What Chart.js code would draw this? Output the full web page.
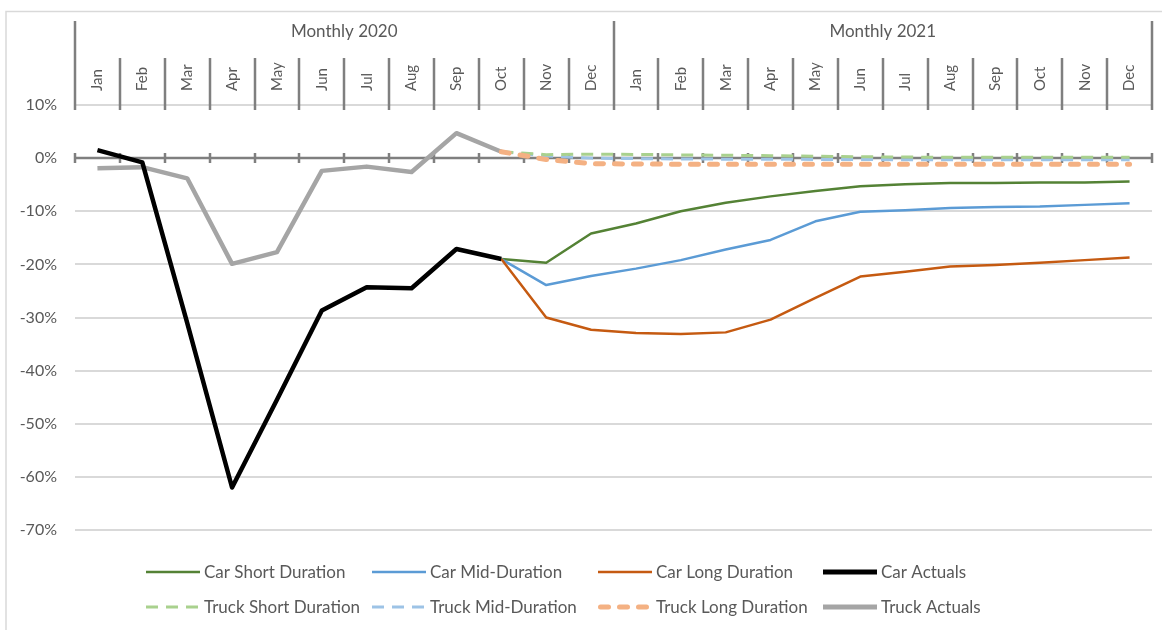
<!DOCTYPE html>
<html>
<head>
<meta charset="utf-8">
<script src="https://cdn.jsdelivr.net/npm/chart.js@4.4.1/dist/chart.umd.min.js"></script>
<style>
  html, body { margin: 0; padding: 0; background: #ffffff; }
  #wrap { position: relative; width: 1162px; height: 630px; }
  canvas { display: block; }
</style>
</head>
<body>
<div id="wrap"><canvas id="chart" width="1162" height="630"></canvas></div>
<script>
// Month categories across the two years
const months = ['Jan','Feb','Mar','Apr','May','Jun','Jul','Aug','Sep','Oct','Nov','Dec',
                'Jan','Feb','Mar','Apr','May','Jun','Jul','Aug','Sep','Oct','Nov','Dec'];
const yearGroups = ['Monthly 2020', 'Monthly 2021'];
const yTicks = [10, 0, -10, -20, -30, -40, -50, -60, -70];

// Year-over-year change, in percent
const carActuals   = [1.5, -0.8, -31.0, -62.0, -45.5, -28.7, -24.3, -24.5, -17.1, -19.0,
                      null, null, null, null, null, null, null, null, null, null, null, null, null, null];
const truckActuals = [-1.9, -1.7, -3.8, -19.9, -17.7, -2.4, -1.6, -2.6, 4.7, 1.2,
                      null, null, null, null, null, null, null, null, null, null, null, null, null, null];

const carShort  = [null, null, null, null, null, null, null, null, null,
                   -19.0, -19.7, -14.2, -12.3, -10.0, -8.4, -7.2, -6.2, -5.3, -4.9, -4.7, -4.7, -4.6, -4.6, -4.4];
const carMid    = [null, null, null, null, null, null, null, null, null,
                   -19.0, -23.9, -22.2, -20.8, -19.2, -17.2, -15.4, -11.9, -10.1, -9.8, -9.4, -9.2, -9.1, -8.8, -8.5];
const carLong   = [null, null, null, null, null, null, null, null, null,
                   -19.0, -30.0, -32.3, -32.9, -33.1, -32.8, -30.4, -26.3, -22.3, -21.4, -20.4, -20.1, -19.7, -19.2, -18.7];

const truckShort = [null, null, null, null, null, null, null, null, null,
                    1.2, 0.65, 0.75, 0.7, 0.6, 0.55, 0.45, 0.35, 0.25, 0.2, 0.15, 0.15, 0.15, 0.15, 0.15];
const truckMid   = [null, null, null, null, null, null, null, null, null,
                    1.2, 0.4, 0.0, -0.1, -0.15, -0.2, -0.2, -0.25, -0.25, -0.3, -0.3, -0.3, -0.3, -0.3, -0.3];
const truckLong  = [null, null, null, null, null, null, null, null, null,
                    1.2, -0.25, -1.05, -1.1, -1.15, -1.15, -1.15, -1.15, -1.15, -1.15, -1.15, -1.15, -1.15, -1.15, -1.15];

const TEXT = '#595959';
const AXIS = '#7f7f7f';
const FONT = 'Lato, "Liberation Sans", sans-serif';

function series(label, data, color, width, extra) {
  return Object.assign({
    label, data,
    borderColor: color, backgroundColor: color,
    borderWidth: width, pointRadius: 0, pointHoverRadius: 0,
    tension: 0, fill: false, spanGaps: false,
    borderJoinStyle: 'round', borderCapStyle: 'butt'
  }, extra || {});
}

const datasets = [
  series('Car Short Duration', carShort, '#548235', 2.5, { order: 6 }),
  series('Car Mid-Duration', carMid, '#5b9bd5', 2.5, { order: 5 }),
  series('Car Long Duration', carLong, '#c55a11', 2.5, { order: 4 }),
  series('Car Actuals', carActuals, '#000000', 4.5, { order: 0, legendWidth: 5 }),
  series('Truck Short Duration', truckShort, '#a9d18e', 3, { order: 2, borderDash: [12, 8] }),
  series('Truck Mid-Duration', truckMid, '#9dc3e6', 3, { order: 3, borderDash: [12, 8] }),
  series('Truck Long Duration', truckLong, '#f4b183', 5, { order: 1, borderDash: [8, 11], borderCapStyle: 'round' }),
  series('Truck Actuals', truckActuals, '#a5a5a5', 4.5, { order: 1, legendWidth: 5 })
];

// Boundary pixel between categories i-1 and i (i = 0..n)
function boundary(xs, i) {
  const step = xs.getPixelForValue(1) - xs.getPixelForValue(0);
  return xs.getPixelForValue(0) + (i - 0.5) * step;
}

// Frame, zero axis with tick marks, and the two-level month header
const framePlugin = {
  id: 'frame',
  beforeDatasetsDraw(chart) {
    const { ctx, chartArea, scales } = chart;
    const xs = scales.x, ys = scales.y;
    const y0 = Math.round(ys.getPixelForValue(0));
    ctx.save();
    ctx.strokeStyle = AXIS;
    ctx.lineWidth = 2.5;
    ctx.beginPath();
    ctx.moveTo(chartArea.left, y0);
    ctx.lineTo(chartArea.right, y0);
    for (let i = 0; i <= months.length; i++) {
      const bx = Math.round(boundary(xs, i));
      ctx.moveTo(bx, y0 - 5);
      ctx.lineTo(bx, y0 + 5);
    }
    ctx.stroke();
    ctx.restore();
  },
  afterDraw(chart) {
    const { ctx, chartArea, scales } = chart;
    const xs = scales.x;
    ctx.save();
    // outer frame
    ctx.strokeStyle = '#d9d9d9';
    ctx.lineWidth = 1.5;
    ctx.strokeRect(6, 11.5, 1200, 700);

    // header separators
    ctx.strokeStyle = AXIS;
    ctx.lineWidth = 2.5;
    ctx.beginPath();
    for (let i = 0; i <= months.length; i++) {
      const bx = Math.round(boundary(xs, i));
      const top = (i % 12 === 0) ? 21 : 58;
      ctx.moveTo(bx, top);
      ctx.lineTo(bx, chartArea.top + 5);
    }
    ctx.stroke();

    // year group titles
    ctx.fillStyle = TEXT;
    ctx.font = '17px ' + FONT;
    ctx.textAlign = 'center';
    ctx.textBaseline = 'middle';
    yearGroups.forEach((g, k) => {
      const cx = (boundary(xs, k * 12) + boundary(xs, k * 12 + 12)) / 2;
      ctx.fillText(g, cx, 32);
    });

    // legend, two rows of four
    const cols = [146, 372, 598, 823];
    const rows = [572, 607];
    const sampleW = 54;
    ctx.font = '17px ' + FONT;
    ctx.textAlign = 'left';
    chart.data.datasets.forEach((ds, k) => {
      const x = cols[k % 4];
      const y = rows[Math.floor(k / 4)];
      ctx.save();
      ctx.strokeStyle = ds.borderColor;
      ctx.lineWidth = ds.legendWidth || ds.borderWidth;
      ctx.lineCap = ds.borderCapStyle || 'butt';
      ctx.setLineDash(ds.borderDash || []);
      ctx.beginPath();
      const capPad = ctx.lineCap === 'round' ? ctx.lineWidth / 2 : 0;
      ctx.moveTo(x + capPad, y);
      ctx.lineTo(x + sampleW - capPad, y);
      ctx.stroke();
      ctx.restore();
      ctx.fillStyle = TEXT;
      ctx.fillText(ds.label, x + sampleW + 4, y + 1);
    });
    ctx.restore();
  }
};

new Chart(document.getElementById('chart'), {
  type: 'line',
  data: { labels: months, datasets },
  plugins: [framePlugin],
  options: {
    responsive: false,
    animation: false,
    devicePixelRatio: 1,
    layout: { padding: { top: 0, left: 0, right: 10, bottom: 100 } },
    plugins: { legend: { display: false }, tooltip: { enabled: false } },
    scales: {
      x: {
        type: 'category',
        position: 'top',
        offset: true,
        grid: { display: false, drawTicks: false, offset: true },
        border: { display: false },
        ticks: {
          autoSkip: false, minRotation: 90, maxRotation: 90,
          padding: 14, labelOffset: 18,
          color: TEXT, font: { family: FONT, size: 15 }
        },
        afterFit(scale) { scale.height = 105; }
      },
      y: {
        min: -70, max: 10,
        afterBuildTicks(scale) { scale.ticks = yTicks.map(v => ({ value: v })); },
        grid: { color: '#d9d9d9', lineWidth: 2, drawTicks: false },
        border: { display: false },
        ticks: {
          padding: 18, color: TEXT, font: { family: FONT, size: 16 },
          callback: v => v + '%'
        },
        afterFit(scale) { scale.width = 75; }
      }
    }
  }
});
</script>
</body>
</html>
